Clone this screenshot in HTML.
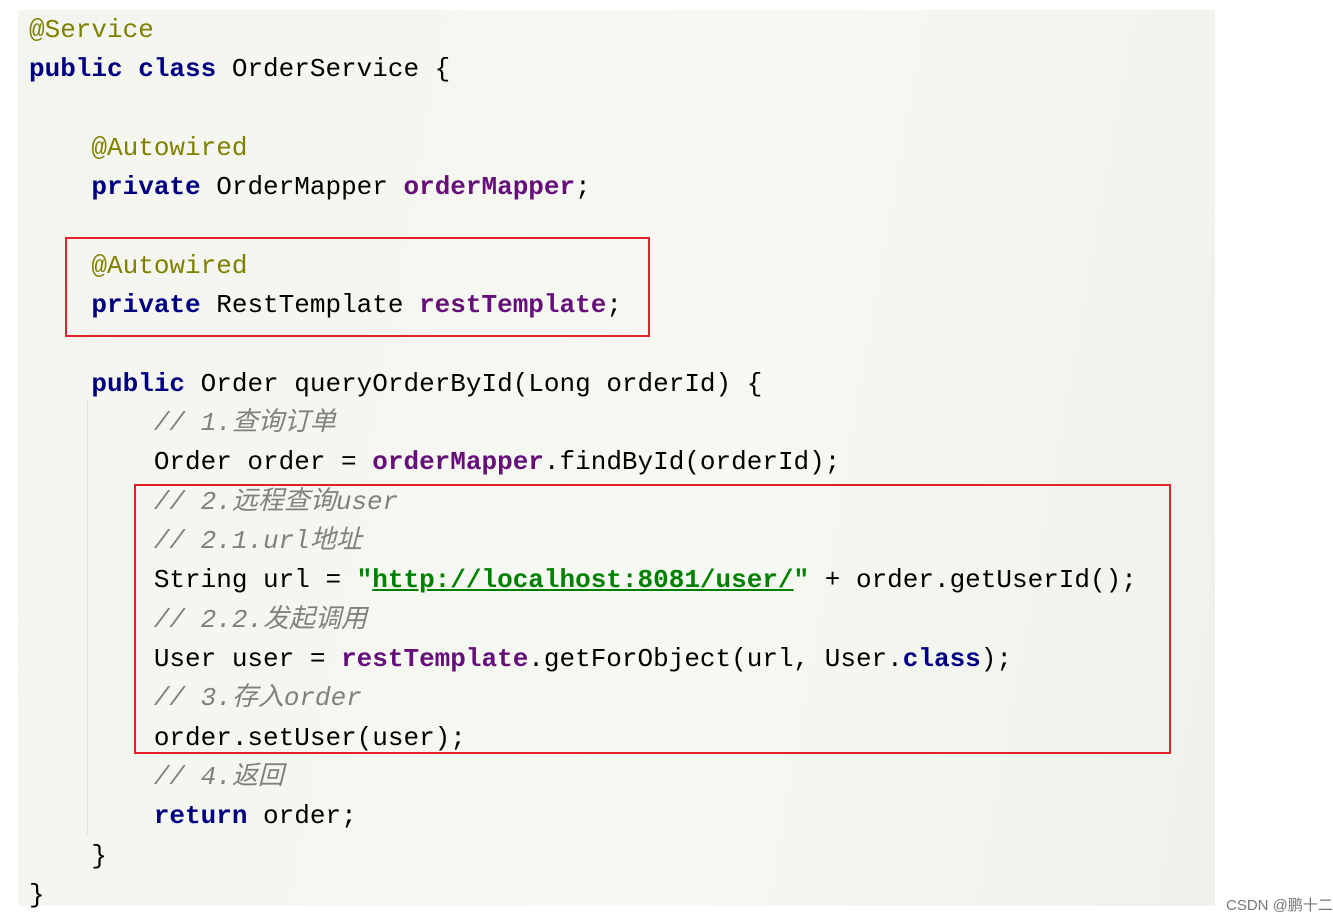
<!DOCTYPE html>
<html><head><meta charset="utf-8"><style>
html,body{margin:0;padding:0;background:#fff;width:1333px;height:923px;overflow:hidden;position:relative}
#code{position:absolute;left:18px;top:10px;width:1197px;height:896px;background:linear-gradient(100deg,#f3f6ee 0%,#f6f8f2 60%,#eef2ea 100%)}
.l{position:absolute;left:29px;height:39px;line-height:39px;white-space:pre;font-family:"Liberation Mono","Noto Sans CJK SC",monospace;font-size:26px;color:#000;margin-top:2px}
.a{color:#808000}.k{color:#000080;font-weight:bold}.f{color:#660e7a;font-weight:bold}
.c{color:#808080;font-style:italic}.s{color:#008000;font-weight:bold}.u{text-decoration:underline}
.box{position:absolute;border:2.5px solid #e3202c}
</style></head><body>
<div id="code"></div>
<div style="position:absolute;left:87px;top:400px;width:1px;height:435px;background:#dfe2da"></div>
<div class="l" style="top:9px"><span class="a">@Service</span></div>
<div class="l" style="top:48px"><span class="k">public class</span> OrderService {</div>
<div class="l" style="top:127px">    <span class="a">@Autowired</span></div>
<div class="l" style="top:166px">    <span class="k">private</span> OrderMapper <span class="f">orderMapper</span>;</div>
<div class="l" style="top:245px">    <span class="a">@Autowired</span></div>
<div class="l" style="top:284px">    <span class="k">private</span> RestTemplate <span class="f">restTemplate</span>;</div>
<div class="l" style="top:363px">    <span class="k">public</span> Order queryOrderById(Long orderId) {</div>
<div class="l" style="top:402px">        <span class="c">// 1.查询订单</span></div>
<div class="l" style="top:441px">        Order order = <span class="f">orderMapper</span>.findById(orderId);</div>
<div class="l" style="top:481px">        <span class="c">// 2.远程查询user</span></div>
<div class="l" style="top:520px">        <span class="c">// 2.1.url地址</span></div>
<div class="l" style="top:559px">        String url = <span class="s">"<span class="u">http://localhost:8081/user/</span>"</span> + order.getUserId();</div>
<div class="l" style="top:599px">        <span class="c">// 2.2.发起调用</span></div>
<div class="l" style="top:638px">        User user = <span class="f">restTemplate</span>.getForObject(url, User.<span class="k">class</span>);</div>
<div class="l" style="top:677px">        <span class="c">// 3.存入order</span></div>
<div class="l" style="top:717px">        order.setUser(user);</div>
<div class="l" style="top:756px">        <span class="c">// 4.返回</span></div>
<div class="l" style="top:795px">        <span class="k">return</span> order;</div>
<div class="l" style="top:835px">    }</div>
<div class="l" style="top:874px">}</div>
<div class="box" style="left:65px;top:237px;width:581px;height:96px"></div>
<div class="box" style="left:134px;top:484px;width:1033px;height:266px"></div>
<div style="position:absolute;left:1226px;top:894px;white-space:nowrap;font-family:'Liberation Sans','Noto Sans CJK SC',sans-serif;font-size:15px;color:#777">CSDN @鹏十二</div>
</body></html>
